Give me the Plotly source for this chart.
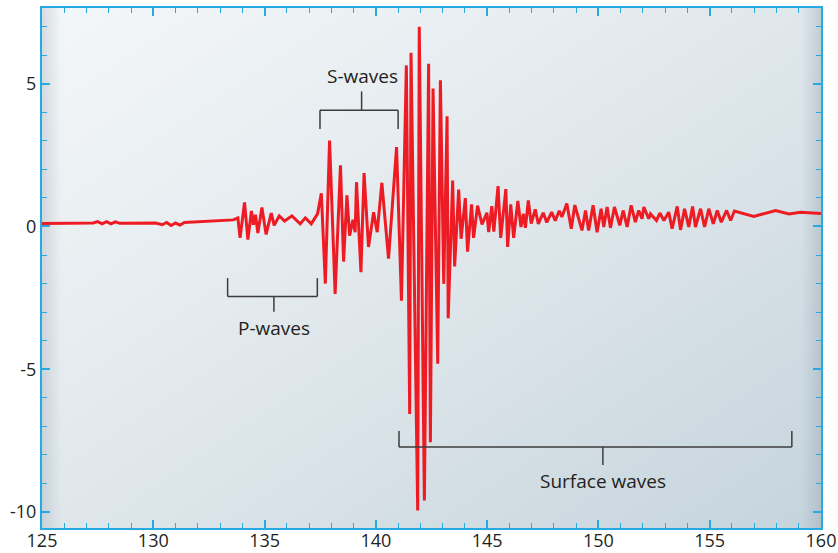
import base64
import plotly.graph_objects as go

# ---- data ----
time_s = [125.0, 127.3, 127.5, 127.7, 127.9, 128.1, 128.3, 128.5, 130.1, 130.4, 130.6, 130.8, 131.0, 131.2, 131.4,
          133.6, 133.8, 133.9, 134.1, 134.25, 134.41, 134.5, 134.59, 134.7, 134.88, 135.07, 135.30, 135.43, 135.66,
          135.9, 136.23, 136.6, 136.83, 137.1, 137.38, 137.55, 137.73, 137.92, 138.17, 138.41, 138.55, 138.70, 138.82,
          138.97, 139.07, 139.13, 139.33, 139.47, 139.67, 139.9, 140.06, 140.27, 140.57, 140.93, 141.15, 141.37,
          141.52, 141.58, 141.88, 141.95, 142.18, 142.37, 142.45, 142.57, 142.78, 142.90, 143.05, 143.20, 143.25,
          143.45, 143.54, 143.72, 143.83, 144.02, 144.12, 144.30, 144.39, 144.57, 144.77, 144.99, 145.07, 145.21,
          145.30, 145.49, 145.61, 145.84, 145.92, 146.06, 146.19, 146.38, 146.52, 146.63, 146.72, 146.85, 146.98,
          147.16, 147.30, 147.52, 147.68, 147.90, 148.06, 148.24, 148.36, 148.58, 148.78, 148.94, 149.26, 149.42,
          149.56, 149.76, 149.94, 150.12, 150.24, 150.39, 150.54, 150.72, 150.96, 151.11, 151.29, 151.47, 151.66,
          151.81, 151.96, 152.04, 152.26, 152.34, 152.61, 152.76, 152.94, 153.16, 153.31, 153.54, 153.69, 153.87,
          154.06, 154.23, 154.36, 154.59, 154.77, 154.96, 155.16, 155.34, 155.52, 155.76, 155.94, 156.11, 156.98,
          157.96, 158.56, 159.08, 160.0]
amplitude = [0.10, 0.12, 0.17, 0.09, 0.17, 0.09, 0.16, 0.11, 0.12, 0.06, 0.14, 0.03, 0.12, 0.05, 0.14,
             0.23, 0.30, -0.40, 0.84, -0.46, 0.54, 0.06, 0.41, -0.23, 0.66, -0.28, 0.47, 0.04, 0.37,
             0.19, 0.37, 0.09, 0.30, 0.09, 0.44, 1.16, -2.0, 3.01, -2.36, 2.14, -1.23, 1.09, -0.32,
             0.23, -0.20, 1.55, -1.60, 1.87, -0.72, 0.50, -0.20, 1.53, -1.13, 2.78, -2.60, 5.64,
             -6.57, 6.08, -9.95, 6.99, -9.60, 5.70, -7.56, 4.83, -4.81, 5.12, -2.01, 3.86, -3.21,
             1.61, -1.40, 1.29, -0.43, 0.99, -0.88, 0.77, -0.40, 0.73, 0.07, 0.48, -0.20, 0.71,
             -0.18, 1.41, -0.40, 1.31, -0.72, 0.77, -0.40, 0.89, -0.02, 0.44, -0.05, 0.91, 0.10,
             0.60, 0.09, 0.48, 0.14, 0.50, 0.20, 0.55, 0.33, 0.80, -0.08, 0.75, -0.14, 0.56,
             -0.14, 0.74, -0.20, 0.62, -0.02, 0.68, -0.05, 0.68, 0.04, 0.56, -0.02, 0.74, 0.15,
             0.56, 0.27, 0.68, 0.27, 0.44, 0.21, 0.47, 0.21, 0.50, -0.08, 0.70, -0.12, 0.62,
             -0.02, 0.70, -0.02, 0.62, -0.02, 0.62, 0.09, 0.56, 0.15, 0.56, 0.21, 0.54, 0.35,
             0.56, 0.44, 0.50, 0.45]

x_tickvals = [125, 130, 135, 140, 145, 150, 155, 160]
x_ticktext = ["125", "130", "135", "140", "145", "150", "155", "160"]
y_tickvals = [-10, -5, 0, 5]
y_ticktext = ["-10", "-5", "0", "5"]

wave_labels = ["P-waves", "S-waves", "Surface waves"]

# ---- styling ----
RED = "#ed1c24"
BLUE = "#27aae1"
INK = "#231f20"
BRACKET = "#3c3c3c"
FONT = "Open Sans"
X_RANGE = [125, 160]
Y_RANGE = [-10.56, 7.65]

svg = """<svg xmlns='http://www.w3.org/2000/svg' width='100' height='100' viewBox='0 0 100 100' preserveAspectRatio='none'>
<defs>
<linearGradient id='g' x1='0' y1='0' x2='1' y2='1'>
<stop offset='0' stop-color='#f4f7f9'/>
<stop offset='0.45' stop-color='#e2e9ed'/>
<stop offset='1' stop-color='#c5d4dc'/>
</linearGradient>
<linearGradient id='l' x1='0' y1='0' x2='1' y2='0'>
<stop offset='0' stop-color='#9aa8b0' stop-opacity='0.35'/>
<stop offset='0.025' stop-color='#9aa8b0' stop-opacity='0'/>
<stop offset='0.975' stop-color='#8a9ca8' stop-opacity='0'/>
<stop offset='1' stop-color='#8a9ca8' stop-opacity='0.35'/>
</linearGradient>
</defs>
<rect x='0' y='0' width='100' height='100' fill='url(#g)'/>
<rect x='0' y='0' width='100' height='100' fill='url(#l)'/>
</svg>"""
bg_uri = "data:image/svg+xml;base64," + base64.b64encode(svg.encode()).decode()

fig = go.Figure()
fig.add_trace(go.Scatter(x=time_s, y=amplitude, mode="lines",
                         line=dict(color=RED, width=3), hoverinfo="skip"))
# empty trace so the mirrored (top/right) tick axes get drawn
fig.add_trace(go.Scatter(x=[None], y=[None], xaxis="x2", yaxis="y2", mode="lines",
                         hoverinfo="skip", showlegend=False))

fig.add_layout_image(dict(source=bg_uri, xref="x domain", yref="y domain", x=0, y=1,
                          sizex=1, sizey=1, xanchor="left", yanchor="top",
                          sizing="stretch", layer="below"))

# brackets
def bracket(x0, x1, y_bar, y_end, x_stem, y_stem):
    for (xa, ya, xb, yb) in [(x0, y_end, x0, y_bar), (x0, y_bar, x1, y_bar),
                             (x1, y_bar, x1, y_end), (x_stem, y_bar, x_stem, y_stem)]:
        fig.add_shape(type="line", x0=xa, y0=ya, x1=xb, y1=yb, xref="x", yref="y",
                      line=dict(color=BRACKET, width=1.5))

bracket(133.34, 137.37, -2.45, -1.81, 135.42, -2.99)
bracket(137.49, 141.0, 4.07, 3.41, 139.36, 4.73)
bracket(141.04, 158.69, -7.72, -7.16, 150.2, -8.35)

label_pos = [(135.42, -3.55), (139.38, 5.28), (150.2, -8.93)]
for txt, (lx, ly) in zip(wave_labels, label_pos):
    fig.add_annotation(x=lx, y=ly, text=txt, showarrow=False, xref="x", yref="y",
                       font=dict(family=FONT, size=19, color=INK), xanchor="center", yanchor="middle")

axis_common = dict(showgrid=False, zeroline=False, showline=True, linecolor=BLUE, linewidth=2,
                   ticks="inside", tickcolor=BLUE, tickwidth=2, ticklen=8, automargin=False,
                   tickfont=dict(family=FONT, size=18, color=INK))
minor = dict(dtick=1, ticks="inside", ticklen=5, tickcolor=BLUE, tickwidth=1)

fig.update_layout(
    xaxis=dict(range=X_RANGE, tickvals=x_tickvals, ticktext=x_ticktext, minor=minor,
               ticklabelstandoff=-5, **axis_common),
    yaxis=dict(range=Y_RANGE, tickvals=y_tickvals, ticktext=y_ticktext, minor=minor, **axis_common),
    xaxis2=dict(range=X_RANGE, tickvals=x_tickvals, showticklabels=False, minor=minor,
                overlaying="x", side="top", **axis_common),
    yaxis2=dict(range=Y_RANGE, tickvals=y_tickvals, showticklabels=False, minor=minor,
                overlaying="y", side="right", **axis_common),
)

fig.update_layout(width=838, height=553, margin=dict(l=42, r=17, t=8, b=25),
                  paper_bgcolor="white", plot_bgcolor="#e4eaee", showlegend=False,
                  font=dict(family=FONT, color=INK))

fig.write_html("out.html", config={"displayModeBar": False, "staticPlot": True},
               post_script="document.body.style.margin='0';document.body.style.overflow='hidden';")
